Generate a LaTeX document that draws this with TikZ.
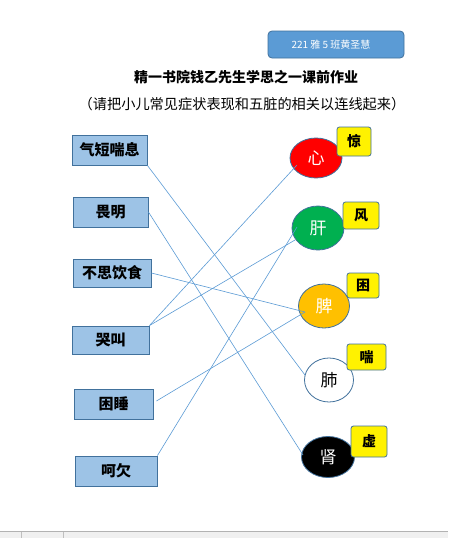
\documentclass[tikz,border=0pt]{standalone}
\usepackage{fontspec}
\setmainfont{Noto Sans CJK SC}
\usetikzlibrary{shapes.geometric}
\definecolor{boxfill}{HTML}{9DC3E6}
\definecolor{boxline}{HTML}{41719C}
\definecolor{linkc}{HTML}{5B9BD5}
\definecolor{hdrfill}{HTML}{5B9BD5}
\definecolor{organgreen}{HTML}{00B050}
\definecolor{organorange}{HTML}{FFC000}
\tikzset{
  symbox/.style={draw=boxline, fill=boxfill, line width=0.9pt, inner sep=0pt,
    font=\bfseries\fontsize{15}{15}\selectfont},
  organ/.style={ellipse, draw=boxline, line width=0.8pt, inner sep=0pt,
    font=\fontsize{17}{17}\selectfont},
  tagbox/.style={draw=boxline, fill=yellow, line width=0.8pt, rounded corners=2.5pt, inner sep=0pt,
    font=\bfseries\fontsize{14}{14}\selectfont},
  hdrbox/.style={draw=boxline, fill=hdrfill, line width=0.8pt, rounded corners=4pt, inner sep=0pt,
    text=white, font=\fontsize{10}{10}\selectfont},
  link/.style={draw=linkc, line width=0.6pt}
}
\begin{document}
\begin{tikzpicture}[x=1pt,y=-1pt]
\useasboundingbox (0,0) rectangle (448,538);
\fill[white] (0,0) rectangle (448,538);
% header box
\node[hdrbox, minimum width=136, minimum height=27] (hdr) at (336,44.5) {221 雅 5 班黄圣慧\hspace*{10pt}};
% titles
\node[font=\bfseries\fontsize{14}{14}\selectfont] (t1) at (246,77) {精一书院钱乙先生学思之一课前作业};
\node[font=\fontsize{14.2}{15}\selectfont] (t2) at (242,104) {（请把小儿常见症状表现和五脏的相关以连线起来）};
% symptom boxes
\node[symbox, minimum width=75, minimum height=30] (qd) at (109.5,150) {气短喘息};
\node[symbox, minimum width=75, minimum height=30] (wm) at (110.5,212) {畏明};
\node[symbox, minimum width=78, minimum height=28] (bs) at (112,273) {不思饮食};
\node[symbox, minimum width=77, minimum height=28] (kj) at (110.5,340) {哭叫};
\node[symbox, minimum width=79, minimum height=30] (ks) at (113.5,404) {困睡};
\node[symbox, minimum width=82, minimum height=30] (hq) at (116,471) {呵欠};
% organs
\node[organ, fill=red, text=white, minimum width=52, minimum height=40] (xin) at (316,158) {心};
\node[organ, fill=organgreen, text=white, minimum width=52, minimum height=44] (gan) at (318,228) {肝};
\node[organ, fill=organorange, text=white, minimum width=51, minimum height=44] (pi) at (324,306) {脾};
\node[organ, fill=white, text=black, minimum width=49, minimum height=44] (fei) at (329,380) {肺};
\node[organ, fill=black, text=white, minimum width=53, minimum height=41] (shen) at (328,457) {肾};
% tags
\node[tagbox, minimum width=34, minimum height=29] (jing) at (354,141.5) {惊};
\node[tagbox, minimum width=36, minimum height=27] (feng) at (361,215.5) {风};
\node[tagbox, minimum width=32, minimum height=25] (kun) at (363,285.5) {困};
\node[tagbox, minimum width=39, minimum height=26] (chuan) at (366.5,357) {喘};
\node[tagbox, minimum width=36, minimum height=31] (xu) at (369,441.5) {虚};
% links
\draw[link] (qd.south east) -- ([shift={(-24,-5)}]fei.center);
\draw[link] (wm.east) -- ([shift={(-25,-2)}]shen.center);
\draw[link] (bs.east) -- ([shift={(-19,6)}]pi.center);
\draw[link] (kj.north east) -- ([shift={(-19,7)}]xin.center);
\draw[link] (kj.north east) -- ([shift={(-23,12)}]gan.center);
\draw[link] ([shift={(3,-3)}]ks.east) -- ([shift={(-19,6)}]pi.center);
\draw[link] (hq.north east) -- ([shift={(-21,-1)}]gan.center);
% bottom status strip
\fill[gray!12] (0,531) rectangle (448,538);
\draw[gray!60, line width=0.8pt] (0,531) -- (448,531);
\draw[gray!50] (21,532) -- (21,538);
\draw[gray!50] (63,532) -- (63,538);
\end{tikzpicture}
\end{document}
